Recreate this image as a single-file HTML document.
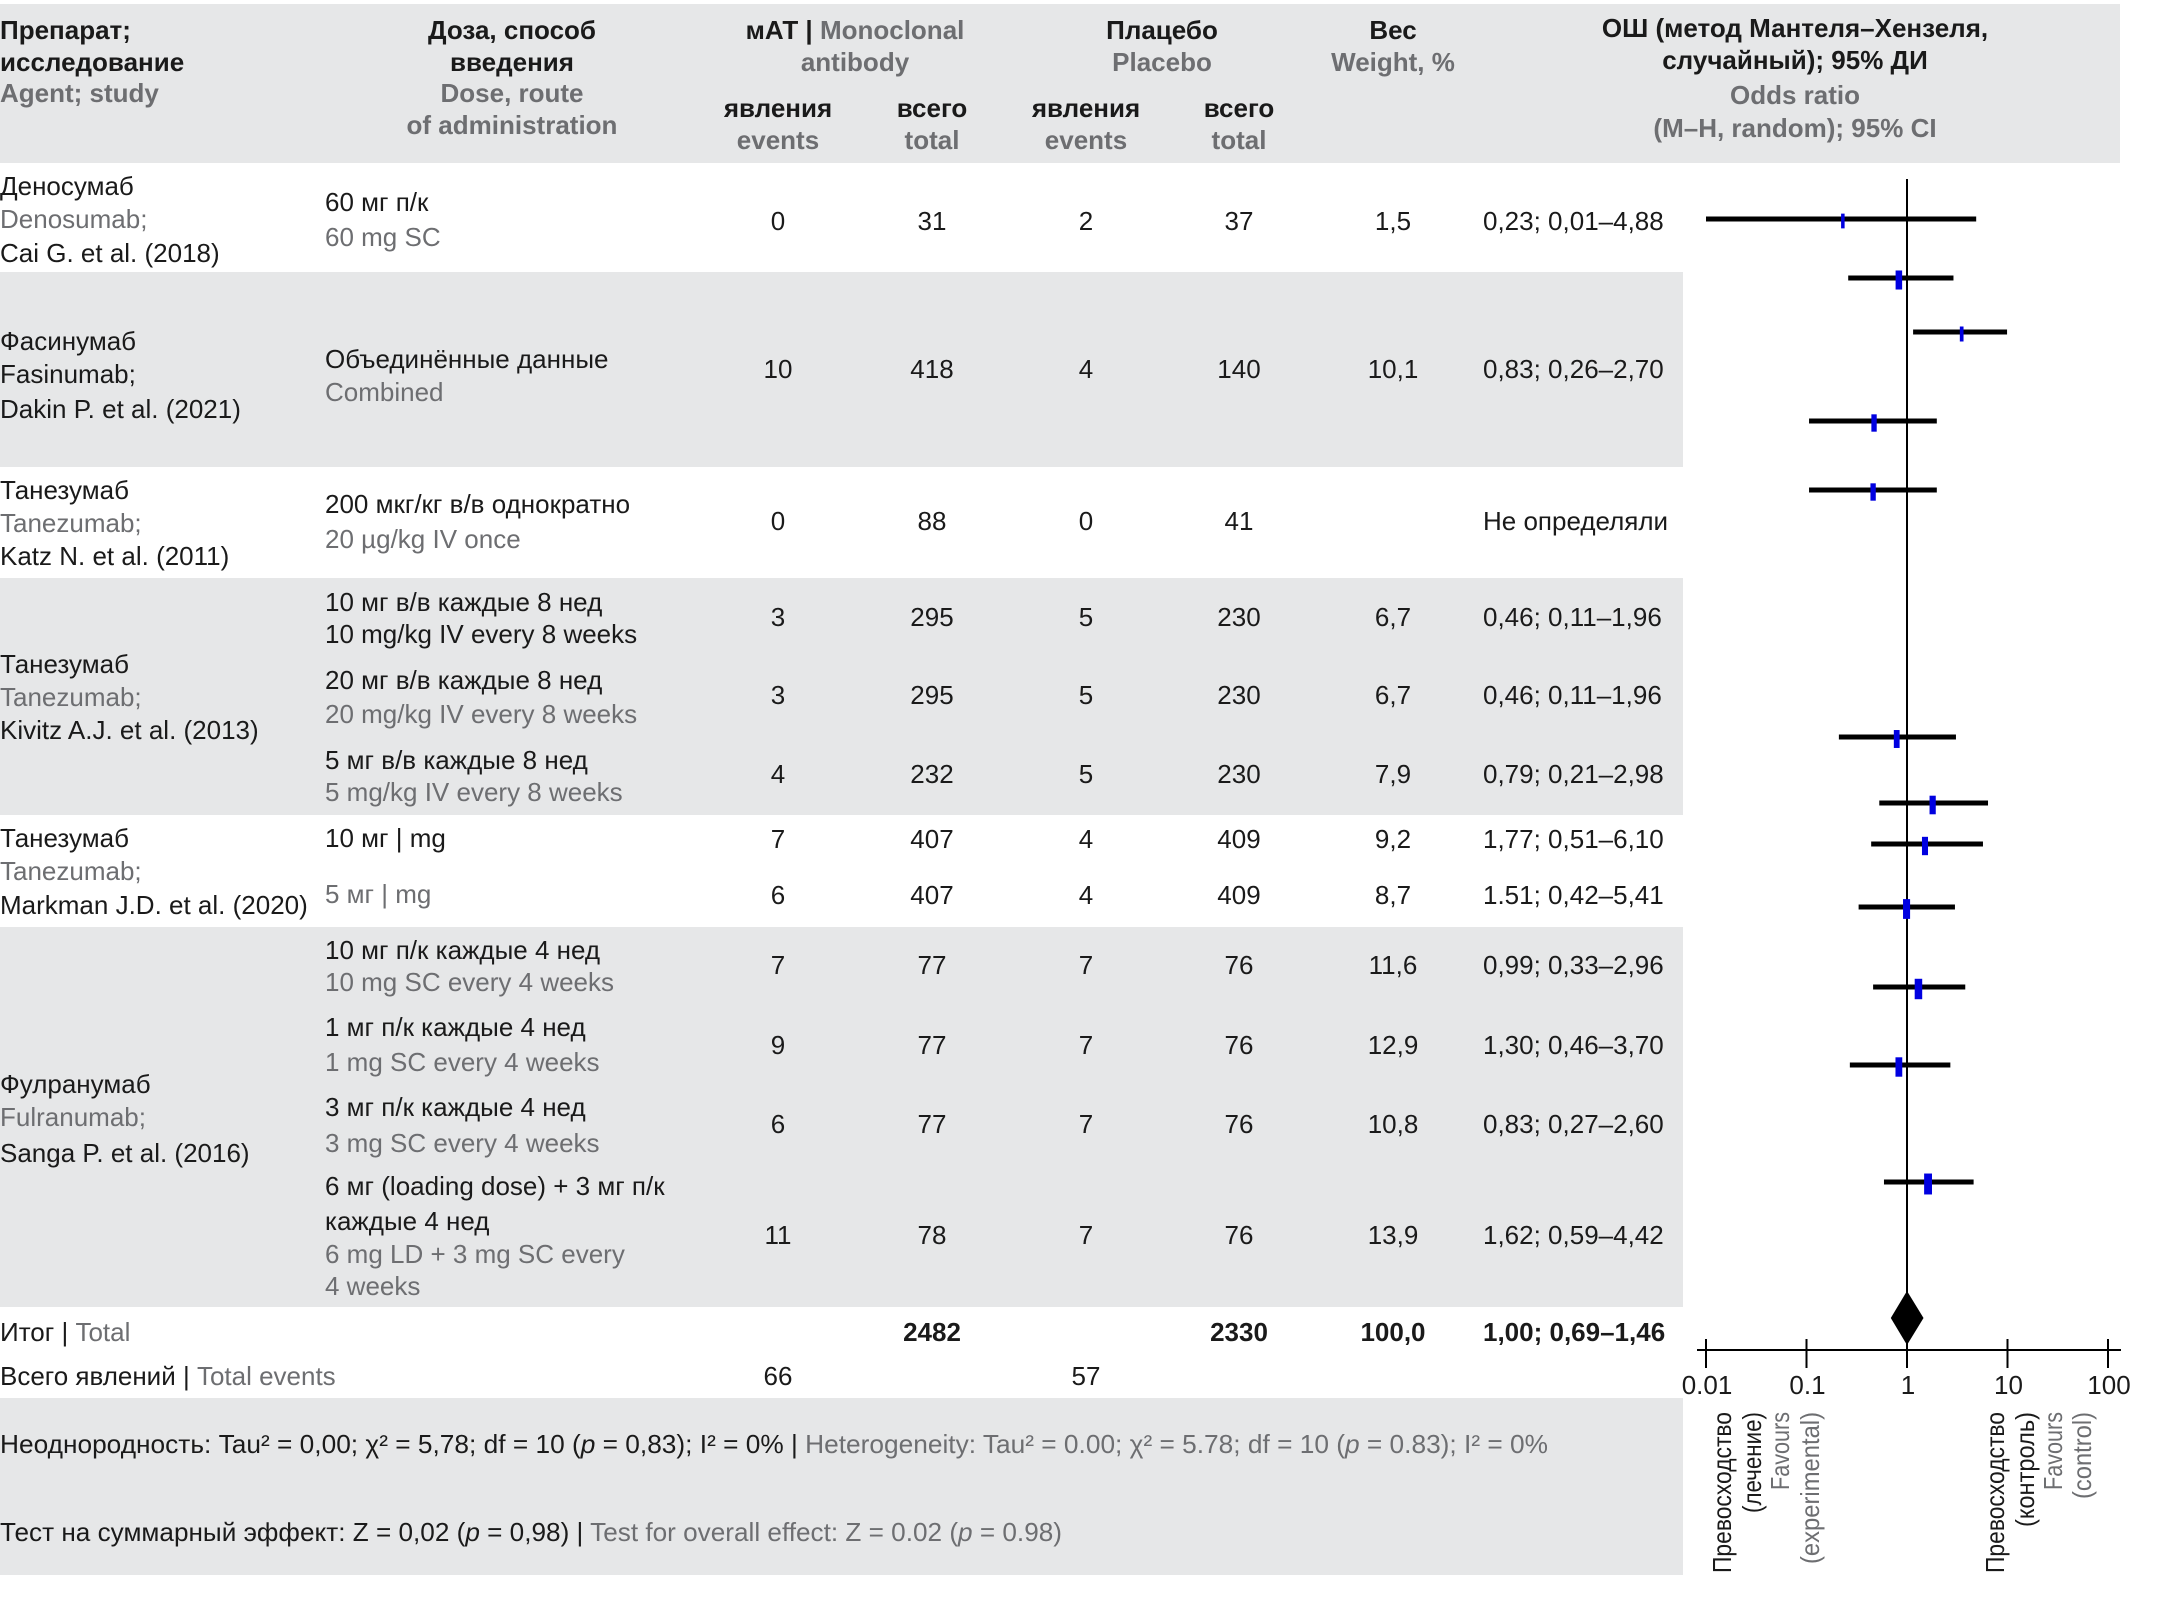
<!DOCTYPE html>
<html><head><meta charset="utf-8">
<style>
html,body{margin:0;padding:0;background:#fff;}
svg{display:block;}
text{font-family:"Liberation Sans","DejaVu Sans",sans-serif;font-size:26px;fill:#1a1a1a;}
.g{fill:#6d6e71;}
.b{font-weight:bold;}
.bg{fill:#e6e7e8;}
</style></head>
<body>
<svg id="fig" width="2157" height="1605" viewBox="0 0 2157 1605" xmlns="http://www.w3.org/2000/svg">
  <rect class="bg" x="0" y="4" width="2120" height="159"/>
  <rect class="bg" x="0" y="272" width="1683" height="195"/>
  <rect class="bg" x="0" y="578" width="1683" height="237"/>
  <rect class="bg" x="0" y="927" width="1683" height="380"/>
  <rect class="bg" x="0" y="1398" width="1683" height="177"/>

  <g class="b">
    <text x="0" y="39" class="b">Препарат;</text>
    <text x="0" y="71" class="b">исследование</text>
    <text x="0" y="102" class="b g">Agent; study</text>
    <text x="512" y="39" text-anchor="middle" class="b">Доза, способ</text>
    <text x="512" y="71" text-anchor="middle" class="b">введения</text>
    <text x="512" y="102" text-anchor="middle" class="b g">Dose, route</text>
    <text x="512" y="134" text-anchor="middle" class="b g">of administration</text>
    <text x="855" y="39" text-anchor="middle" class="b">мАТ | <tspan class="g">Monoclonal</tspan></text>
    <text x="855" y="71" text-anchor="middle" class="b g">antibody</text>
    <text x="778" y="117" text-anchor="middle" class="b">явления</text>
    <text x="778" y="149" text-anchor="middle" class="b g">events</text>
    <text x="932" y="117" text-anchor="middle" class="b">всего</text>
    <text x="932" y="149" text-anchor="middle" class="b g">total</text>
    <text x="1162" y="39" text-anchor="middle" class="b">Плацебо</text>
    <text x="1162" y="71" text-anchor="middle" class="b g">Placebo</text>
    <text x="1086" y="117" text-anchor="middle" class="b">явления</text>
    <text x="1086" y="149" text-anchor="middle" class="b g">events</text>
    <text x="1239" y="117" text-anchor="middle" class="b">всего</text>
    <text x="1239" y="149" text-anchor="middle" class="b g">total</text>
    <text x="1393" y="39" text-anchor="middle" class="b">Вес</text>
    <text x="1393" y="71" text-anchor="middle" class="b g">Weight, %</text>
    <text x="1795" y="37" text-anchor="middle" class="b">ОШ (метод Мантеля–Хензеля,</text>
    <text x="1795" y="69" text-anchor="middle" class="b">случайный); 95% ДИ</text>
    <text x="1795" y="104" text-anchor="middle" class="b g">Odds ratio</text>
    <text x="1795" y="137" text-anchor="middle" class="b g">(M–H, random); 95% CI</text>
  </g>

  <g>
    <text x="0" y="195">Деносумаб</text>
    <text x="0" y="228" class="g">Denosumab;</text>
    <text x="0" y="262">Cai G. et al. (2018)</text>
    <text x="0" y="350">Фасинумаб</text>
    <text x="0" y="383">Fasinumab;</text>
    <text x="0" y="418">Dakin P. et al. (2021)</text>
    <text x="0" y="499">Танезумаб</text>
    <text x="0" y="532" class="g">Tanezumab;</text>
    <text x="0" y="565">Katz N. et al. (2011)</text>
    <text x="0" y="673">Танезумаб</text>
    <text x="0" y="706" class="g">Tanezumab;</text>
    <text x="0" y="739">Kivitz A.J. et al. (2013)</text>
    <text x="0" y="847">Танезумаб</text>
    <text x="0" y="880" class="g">Tanezumab;</text>
    <text x="0" y="914">Markman J.D. et al. (2020)</text>
    <text x="0" y="1093">Фулранумаб</text>
    <text x="0" y="1126" class="g">Fulranumab;</text>
    <text x="0" y="1162">Sanga P. et al. (2016)</text>
    <text x="0" y="1341">Итог | <tspan class="g">Total</tspan></text>
    <text x="0" y="1385">Всего явлений | <tspan class="g">Total events</tspan></text>
  </g>

  <g>
    <text x="325" y="211">60 мг п/к</text>
    <text x="325" y="246" class="g">60 mg SC</text>
    <text x="325" y="368">Объединённые данные</text>
    <text x="325" y="401" class="g">Combined</text>
    <text x="325" y="513">200 мкг/кг в/в однократно</text>
    <text x="325" y="548" class="g">20 µg/kg IV once</text>
    <text x="325" y="611">10 мг в/в каждые 8 нед</text>
    <text x="325" y="643">10 mg/kg IV every 8 weeks</text>
    <text x="325" y="689">20 мг в/в каждые 8 нед</text>
    <text x="325" y="723" class="g">20 mg/kg IV every 8 weeks</text>
    <text x="325" y="769">5 мг в/в каждые 8 нед</text>
    <text x="325" y="801" class="g">5 mg/kg IV every 8 weeks</text>
    <text x="325" y="847">10 мг | mg</text>
    <text x="325" y="903" class="g">5 мг | mg</text>
    <text x="325" y="959">10 мг п/к каждые 4 нед</text>
    <text x="325" y="991" class="g">10 mg SC every 4 weeks</text>
    <text x="325" y="1036">1 мг п/к каждые 4 нед</text>
    <text x="325" y="1071" class="g">1 mg SC every 4 weeks</text>
    <text x="325" y="1116">3 мг п/к каждые  4 нед</text>
    <text x="325" y="1152" class="g">3 mg SC every 4 weeks</text>
    <text x="325" y="1195">6 мг (loading dose) + 3 мг п/к</text>
    <text x="325" y="1230">каждые 4 нед</text>
    <text x="325" y="1263" class="g">6 mg LD + 3 mg SC every</text>
    <text x="325" y="1295" class="g">4 weeks</text>
  </g>

  <g id="numbers"></g>

  <text x="0" y="1453" textLength="1548" lengthAdjust="spacingAndGlyphs">Неоднородность: Tau² = 0,00; χ² = 5,78; df = 10 (<tspan font-style="italic">p</tspan> = 0,83); I² = 0% | <tspan class="g">Heterogeneity: Tau² = 0.00; χ² = 5.78; df = 10 (<tspan font-style="italic">p</tspan> = 0.83); I² = 0%</tspan></text>
  <text x="0" y="1541" textLength="1062" lengthAdjust="spacingAndGlyphs">Тест на суммарный эффект: Z = 0,02 (<tspan font-style="italic">p</tspan> = 0,98) | <tspan class="g">Test for overall effect: Z = 0.02 (<tspan font-style="italic">p</tspan> = 0.98)</tspan></text>

  <g id="plot"></g>
</svg>
<script>
// ---- table data ----
const rowLabels = ["Cai 2018","Dakin 2021","Katz 2011","Kivitz 10","Kivitz 20","Kivitz 5","Markman 10","Markman 5","Sanga 10","Sanga 1","Sanga 3","Sanga 6+3"];
const mabEvents = ["0","10","0","3","3","4","7","6","7","9","6","11"];
const mabTotal = ["31","418","88","295","295","232","407","407","77","77","77","78"];
const plEvents = ["2","4","0","5","5","5","4","4","7","7","7","7"];
const plTotal = ["37","140","41","230","230","230","409","409","76","76","76","76"];
const weightText = ["1,5","10,1","","6,7","6,7","7,9","9,2","8,7","11,6","12,9","10,8","13,9"];
const orText = ["0,23; 0,01–4,88","0,83; 0,26–2,70","Не определяли","0,46; 0,11–1,96","0,46; 0,11–1,96","0,79; 0,21–2,98","1,77; 0,51–6,10","1.51; 0,42–5,41","0,99; 0,33–2,96","1,30; 0,46–3,70","0,83; 0,27–2,60","1,62; 0,59–4,42"];
// ---- plot data ----
const markOR = [0.23,0.83,3.5,0.47,0.46,0.79,1.8,1.51,0.99,1.30,0.83,1.62];
const markLo = [0.01,0.26,1.15,0.106,0.106,0.21,0.53,0.44,0.33,0.46,0.27,0.59];
const markHi = [4.88,2.9,9.9,1.98,1.98,3.07,6.4,5.7,3.0,3.8,2.7,4.6];
const markWeight = [1.5,10.1,2,6.7,6.7,7.9,9.2,8.7,11.6,12.9,10.8,13.9];
const pooledOR = [1.00]; const pooledLo = [0.69]; const pooledHi = [1.46];
const tickValues = [0.01,0.1,1,10,100];
const tickLabels = ["0.01","0.1","1","10","100"];

// layout (not data)
const rowCenterY = [221,369,521,617,695,774,839,895,965,1045,1124,1235];
const markRowY = [219,278,332,421,490,737,803,844,907,987,1065,1182];
const colX = [778,932,1086,1239,1393];
const NS = "http://www.w3.org/2000/svg";
const numG = document.getElementById('numbers');
const plot = document.getElementById('plot');
function mk(tag, attrs, parent){const e=document.createElementNS(NS,tag);for(const k in attrs)e.setAttribute(k,attrs[k]);parent.appendChild(e);return e;}

const cols = [mabEvents, mabTotal, plEvents, plTotal, weightText];
const colNames = ['mab-events','mab-total','placebo-events','placebo-total','weight'];
for (let i=0;i<rowLabels.length;i++){
  for (let c=0;c<cols.length;c++){
    if(!cols[c][i]) continue;
    const t = mk('text',{x:colX[c],y:rowCenterY[i]+9,'text-anchor':'middle'},numG);
    t.textContent = cols[c][i];
    
    
  }
  const o = mk('text',{x:1483,y:rowCenterY[i]+9},numG);
  o.textContent = orText[i];
  
  
}
const totals = [["2482",932],["2330",1239],["100,0",1393]];
totals.forEach(tt=>{
  const t = mk('text',{x:tt[1],y:1341,'text-anchor':'middle','class':'b'},numG);
  t.textContent = tt[0];
  
  
});
const tor = mk('text',{x:1483,y:1341,'class':'b'},numG);
tor.textContent = "1,00; 0,69–1,46";


[["66",778],["57",1086]].forEach(tt=>{
  const t = mk('text',{x:tt[1],y:1385,'text-anchor':'middle'},numG);
  t.textContent = tt[0];
  
  
});

// ---- axis ----
const X1 = 1907, DEC = 100.5, AXY = 1350;
function xs(v){return X1 + DEC*Math.log10(v);}
const ref = mk('line',{x1:xs(1),x2:xs(1),y1:179,y2:1300,stroke:'#000','stroke-width':2},plot);


const ax = mk('line',{x1:1697,x2:2121,y1:AXY,y2:AXY,stroke:'#000','stroke-width':2},plot);


tickValues.forEach((v,i)=>{
  const tk = mk('line',{x1:xs(v),x2:xs(v),y1:AXY-11,y2:AXY+18,stroke:'#000','stroke-width':2},plot);
  
  
  const lb = mk('text',{x:xs(v)+1,y:AXY+44,'text-anchor':'middle','font-size':'22'},plot);
  lb.textContent = tickLabels[i];
  
  
});

for (let i=0;i<markOR.length;i++){
  const y = markRowY[i];
  const ci = mk('line',{x1:xs(markLo[i]),x2:xs(markHi[i]),y1:y,y2:y,stroke:'#000','stroke-width':5},plot);
  
  
  const w = 3 + markWeight[i]*0.35, h = 14 + markWeight[i]*0.5;
  const sq = mk('rect',{x:xs(markOR[i])-w/2,y:y-h/2+2,width:w,height:h,fill:'#0000e0'},plot);
  
  
}
const dy = 1318;
const dm = mk('polygon',{points:`${xs(pooledLo[0])},${dy} ${xs(pooledOR[0])},${dy-27} ${xs(pooledHi[0])},${dy} ${xs(pooledOR[0])},${dy+27}`,fill:'#000'},plot);



const favs = [
  [1722,"Превосходство","",161],[1752,"(лечение)","",101],[1780,"Favours","g",78],[1810,"(experimental)","g",152],
  [1995,"Превосходство","",161],[2025,"(контроль)","",115],[2053,"Favours","g",78],[2082,"(control)","g",87]
];
favs.forEach(f=>{
  const t = mk('text',{x:0,y:0,transform:`translate(${f[0]+9},1412) rotate(-90)`,'font-size':'25','text-anchor':'end',textLength:f[3],lengthAdjust:'spacingAndGlyphs'},plot);
  if(f[2]) t.setAttribute('class', f[2]);
  t.textContent = f[1];
  
  
});
</script>
</body></html>
